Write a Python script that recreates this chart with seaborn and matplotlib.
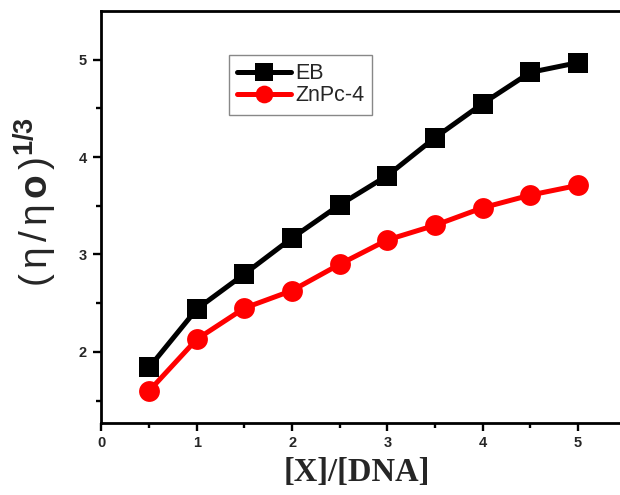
import matplotlib
matplotlib.use("Agg")
import matplotlib.pyplot as plt
import seaborn as sns
import pandas as pd
from matplotlib.ticker import FixedLocator

ratio = [0.5, 1.0, 1.5, 2.0, 2.5, 3.0, 3.5, 4.0, 4.5, 5.0]
eb = [1.84, 2.44, 2.80, 3.17, 3.51, 3.81, 4.20, 4.55, 4.87, 4.97]
znpc = [1.60, 2.13, 2.45, 2.63, 2.90, 3.15, 3.30, 3.48, 3.61, 3.71]
series_names = ["EB", "ZnPc-4"]
x_ticks = [0, 1, 2, 3, 4, 5]
x_minor = [0.5, 1.5, 2.5, 3.5, 4.5]
y_ticks = [2, 3, 4, 5]
y_minor = [1.5, 2.5, 3.5, 4.5]

df = pd.DataFrame({
    "x": ratio * 2,
    "y": eb + znpc,
    "series": [series_names[0]] * len(ratio) + [series_names[1]] * len(ratio),
})

sns.set_theme(style="white")
plt.rcParams["font.family"] = ["Liberation Sans", "DejaVu Sans"]
plt.rcParams["mathtext.fontset"] = "custom"
plt.rcParams["mathtext.rm"] = "Liberation Sans"
plt.rcParams["mathtext.it"] = "Liberation Sans"
plt.rcParams["mathtext.bf"] = "Liberation Sans:bold"

fig = plt.figure(figsize=(6.2, 4.95), dpi=100)
px_unit = 95.3
ax = fig.add_axes([101.5 / 620, 72 / 495, 5.5 * px_unit / 620, 412 / 495])

sns.lineplot(data=df, x="x", y="y", hue="series", style="series",
             palette={"EB": "black", "ZnPc-4": "#ff0000"},
             markers={"EB": "s", "ZnPc-4": "o"}, dashes=False,
             linewidth=3.6, markersize=15, markeredgewidth=0, ax=ax)

ax.set_xlim(0, 5.5)
ax.set_ylim(1.27, 5.5)
ax.set_xticks(x_ticks)
ax.set_yticks(y_ticks)
ax.xaxis.set_minor_locator(FixedLocator(x_minor))
ax.yaxis.set_minor_locator(FixedLocator(y_minor))
ax.tick_params(which="major", direction="out", length=6, width=1.7,
               color="black", labelsize=10.5,
               bottom=True, left=True, top=False, right=False)
ax.tick_params(axis="x", which="major", pad=3.5)
ax.tick_params(axis="y", which="major", pad=4.5)
ax.tick_params(which="minor", direction="out", length=3.3, width=1.7,
               color="black", bottom=True, left=True, top=False, right=False)
for lab in ax.get_xticklabels() + ax.get_yticklabels():
    lab.set_fontweight("bold")
for s in ax.spines.values():
    s.set_linewidth(2)
    s.set_color("black")

ax.set_xlabel("[X]/[DNA]", fontsize=23.5, fontweight="bold",
              family=["Liberation Serif", "DejaVu Serif"], va="top")
ax.xaxis.set_label_coords((357 - 101.5) / (5.5 * px_unit), -(457 - 423) / 412)
ax.set_ylabel(r"$(\,\eta\,/\,\eta\,\mathbf{o}\,)^{\mathbf{1/3}}$", fontsize=28)
ax.yaxis.set_label_coords(-(101.5 - 59) / (5.5 * px_unit), (423 - 202) / 412)

leg = ax.legend(loc="upper left", bbox_to_anchor=(0.243, 0.893),
                borderaxespad=0, fontsize=15.5, handlelength=2.5,
                markerscale=0.85,
                frameon=True, fancybox=False, edgecolor="#888888",
                framealpha=1, borderpad=0.38, labelspacing=0.05,
                handletextpad=0.2, title=None)
leg.get_frame().set_linewidth(1)

fig.savefig("out.png", dpi=100, facecolor="white")
